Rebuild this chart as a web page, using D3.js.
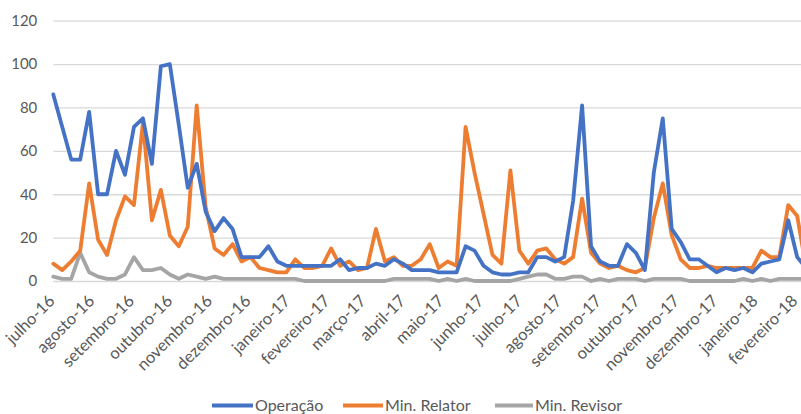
<!DOCTYPE html>
<html>
<head>
<meta charset="utf-8">
<script src="https://cdn.jsdelivr.net/npm/d3@7"></script>
<style>
  html, body { margin: 0; padding: 0; background: #ffffff; }
  svg { display: block; font-family: Lato, "Noto Sans", sans-serif; }
</style>
</head>
<body>
<svg id="chart" width="801" height="414"></svg>
<script>
// Weekly counts, one value per week starting Friday 2016-07-01
const operacao = [
  86, 71, 56, 56, 78, 40, 40, 60, 49, 71, 75, 54, 99, 100, 72, 43, 54, 32, 23, 29,
  24, 11, 11, 11, 16, 9, 7, 7, 7, 7, 7, 7, 10, 5, 6, 6, 8, 7, 10, 8,
  5, 5, 5, 4, 4, 4, 16, 14, 7, 4, 3, 3, 4, 4, 11, 11, 9, 11, 37, 81,
  16, 9, 7, 7, 17, 13, 5, 50, 75, 24, 18, 10, 10, 7, 4, 6, 5, 6, 4, 8,
  9, 10, 28, 11, 6
];
const minRelator = [
  8, 5, 9, 14, 45, 19, 12, 28, 39, 35, 73, 28, 42, 21, 16, 25, 81, 34, 15, 12,
  17, 9, 11, 6, 5, 4, 4, 10, 6, 6, 7, 15, 7, 9, 5, 6, 24, 9, 11, 7,
  7, 10, 17, 6, 9, 7, 71, 50, 31, 12, 8, 51, 14, 8, 14, 15, 10, 8, 11, 38,
  13, 8, 6, 7, 5, 4, 6, 29, 45, 21, 10, 6, 6, 7, 6, 6, 6, 6, 6, 14,
  11, 11, 35, 30, 6
];
const minRevisor = [
  2, 1, 1, 13, 4, 2, 1, 1, 3, 11, 5, 5, 6, 3, 1, 3, 2, 1, 2, 1,
  1, 1, 1, 1, 1, 1, 1, 1, 0, 0, 0, 0, 0, 0, 0, 0, 0, 0, 1, 1,
  1, 1, 1, 0, 1, 0, 1, 0, 0, 0, 0, 0, 1, 2, 3, 3, 1, 1, 2, 2,
  0, 1, 0, 1, 1, 1, 0, 1, 1, 1, 1, 0, 0, 0, 0, 0, 0, 1, 0, 1,
  0, 1, 1, 1, 1
];
const seriesNames = ["Operação", "Min. Relator", "Min. Revisor"];
const monthLabels = [
  "julho-16", "agosto-16", "setembro-16", "outubro-16", "novembro-16", "dezembro-16",
  "janeiro-17", "fevereiro-17", "março-17", "abril-17", "maio-17", "junho-17",
  "julho-17", "agosto-17", "setembro-17", "outubro-17", "novembro-17", "dezembro-17",
  "janeiro-18", "fevereiro-18"
];
const yTicks = [0, 20, 40, 60, 80, 100, 120];

// Week categories (Fridays) and month boundaries for the date axis
const weeks = d3.timeFriday.range(new Date(2016, 6, 1), new Date(2018, 1, 10));
const months = d3.timeMonth.range(new Date(2016, 6, 1), new Date(2018, 2, 1));

const colors = ["#4472C4", "#ED7D31", "#A5A5A5"];
const series = [operacao, minRelator, minRevisor];

const svg = d3.select("#chart");
const plotLeft = 53.3, plotTop = 20.7, plotBottom = 281;

// The plot area runs on past the right edge of the page
const x = d3.scaleTime()
  .domain([new Date(2016, 6, 1), new Date(2018, 2, 1)])
  .range([plotLeft, plotLeft + 608 * 1.2804]);
const y = d3.scaleLinear().domain([0, 120]).range([plotBottom, plotTop]);

// Horizontal gridlines and value labels
const yAxis = svg.append("g")
  .attr("transform", `translate(${plotLeft},0)`)
  .call(d3.axisLeft(y).tickValues(yTicks).tickSize(-(x.range()[1] - plotLeft)).tickPadding(16));
yAxis.select(".domain").remove();
yAxis.selectAll(".tick line").attr("stroke", "#D9D9D9").attr("stroke-width", 1.3);
yAxis.selectAll(".tick text")
  .attr("fill", "#595959")
  .style("font-size", "15px")
  .style("font-family", "Lato, 'Noto Sans', sans-serif");

// Month labels, rotated
const xAxis = svg.append("g")
  .attr("transform", `translate(0,${plotBottom})`)
  .call(d3.axisBottom(x).tickValues(months).tickSize(0).tickFormat((d, i) => monthLabels[i]));
xAxis.select(".domain").remove();
xAxis.selectAll(".tick text")
  .attr("fill", "#595959")
  .style("font-size", "16.5px")
  .style("font-family", "Lato, 'Noto Sans', sans-serif")
  .attr("text-anchor", "end")
  .attr("dy", null)
  .attr("y", null)
  .attr("transform", "translate(2,21) rotate(-45)");

// Series lines
const line = d3.line()
  .x((d, i) => x(weeks[i]))
  .y(d => y(d));

const order = [2, 1, 0];
order.forEach(k => {
  svg.append("path")
    .datum(series[k])
    .attr("fill", "none")
    .attr("stroke", colors[k])
    .attr("stroke-width", 3.8)
    .attr("stroke-linejoin", "round")
    .attr("stroke-linecap", "round")
    .attr("d", line);
});

// Legend
const legendItems = [
  { name: seriesNames[0], color: colors[0], x0: 212, x1: 253 },
  { name: seriesNames[1], color: colors[1], x0: 343, x1: 383 },
  { name: seriesNames[2], color: colors[2], x0: 495, x1: 533 }
];
const legend = svg.append("g");
legendItems.forEach(it => {
  legend.append("line")
    .attr("x1", it.x0).attr("x2", it.x1)
    .attr("y1", 405.5).attr("y2", 405.5)
    .attr("stroke", it.color).attr("stroke-width", 3.8);
  legend.append("text")
    .attr("x", it.x1 + 2).attr("y", 405.5)
    .attr("dy", "0.35em")
    .attr("fill", "#595959")
    .style("font-size", "16px")
    .text(it.name);
});
</script>
</body>
</html>
